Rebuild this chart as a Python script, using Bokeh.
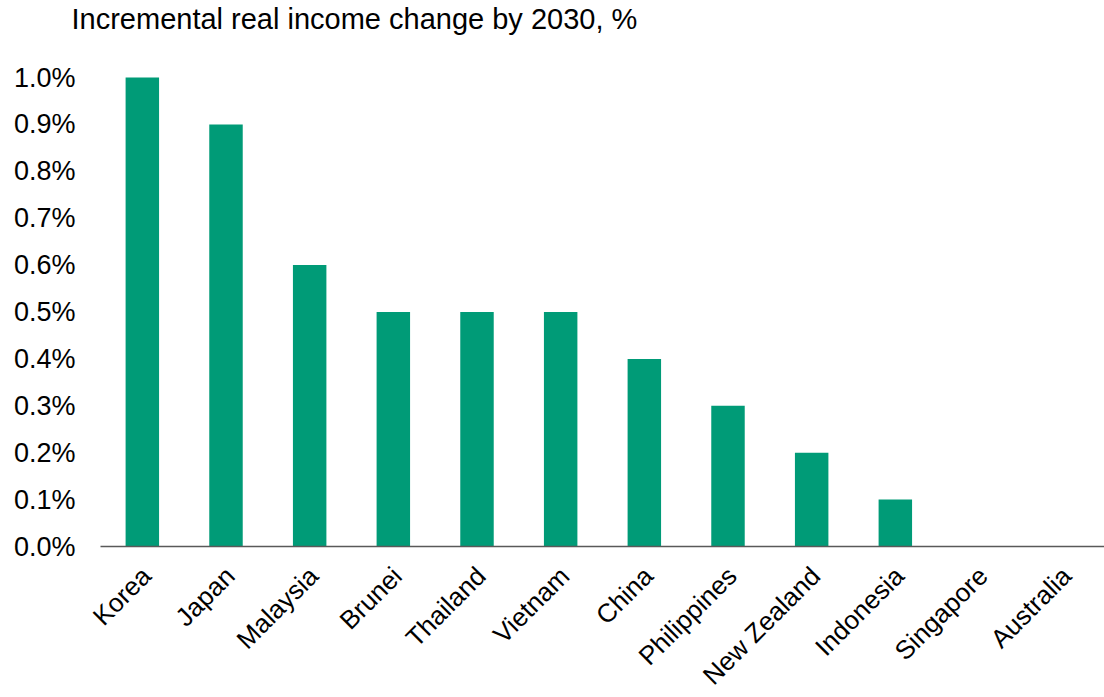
from math import pi
from bokeh.plotting import figure
from bokeh.models import ColumnDataSource, Range1d
from bokeh.core.properties import value
from bokeh.embed import file_html
from bokeh.resources import INLINE

countries = ["Korea", "Japan", "Malaysia", "Brunei", "Thailand", "Vietnam", "China",
             "Philippines", "New Zealand", "Indonesia", "Singapore", "Australia"]
values = [1.0, 0.9, 0.6, 0.5, 0.5, 0.5, 0.4, 0.3, 0.2, 0.1, 0.0, 0.0]
y_ticks = [0.0, 0.1, 0.2, 0.3, 0.4, 0.5, 0.6, 0.7, 0.8, 0.9, 1.0]
title_text = "Incremental real income change by 2030, %"

W, H = 1104, 697
LEFT = 100            # px left of the category area
ZERO_Y, ONE_Y = 546, 77  # px positions of 0% and 1%
n = len(countries)
px_x = (W - LEFT) / n
px_y = (ZERO_Y - ONE_Y) / 1.0

pos = [i + 0.5 for i in range(n)]
src = ColumnDataSource(dict(x=pos, top=values, name=countries, base=[0.0] * n))
tick_src = ColumnDataSource(dict(y=y_ticks, x=[0.0] * len(y_ticks),
                                 label=["%.1f%%" % t for t in y_ticks]))

p = figure(width=W, height=H,
           x_range=Range1d(-LEFT / px_x, n),
           y_range=Range1d(-(H - ZERO_Y) / px_y, 1 + ONE_Y / px_y),
           output_backend="svg", toolbar_location=None,
           min_border_left=0, min_border_right=0, min_border_bottom=0, min_border_top=0)

p.xaxis.visible = False
p.yaxis.visible = False
p.xgrid.visible = False
p.ygrid.visible = False
p.outline_line_color = None

p.vbar(x="x", top="top", width=0.4, source=src, color="#009B77", line_color=None)

# category axis line
p.segment(x0=[0], x1=[n], y0=[0], y1=[0], line_color="#595959", line_width=1.5)

font = value("Liberation Sans")

# y tick labels
p.text(x="x", y="y", text="label", source=tick_src, x_offset=-25,
       text_align="right", text_baseline="middle",
       text_font=font, text_font_size="27px", text_color="#000000")

# category labels
p.text(x="x", y="base", text="name", source=src, angle=pi / 4,
       text_align="right", text_baseline="middle", x_offset=4, y_offset=25,
       text_font=font, text_font_size="26px", text_color="#000000")

# title
p.text(x=[0], y=[1.0], text=[title_text], x_offset=-29, y_offset=-59,
       text_align="left", text_baseline="alphabetic",
       text_font=font, text_font_size="29px", text_color="#000000")

open("out.html", "w").write(file_html(p, INLINE))
